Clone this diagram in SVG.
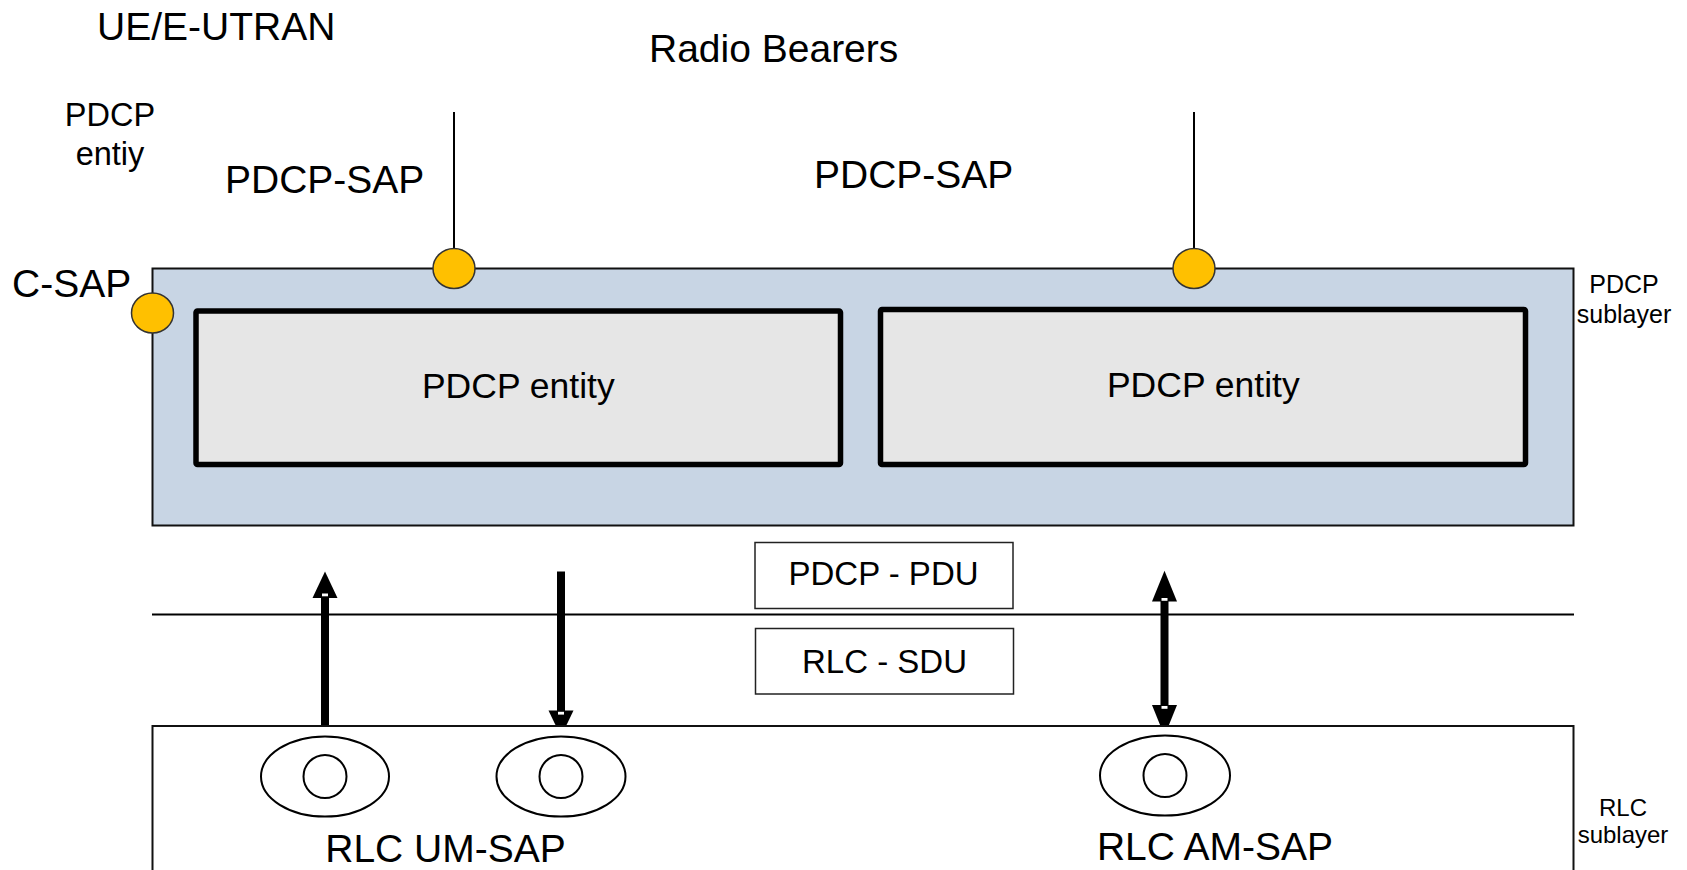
<svg xmlns="http://www.w3.org/2000/svg" width="1687" height="870" viewBox="0 0 1687 870">
<style>
  text { font-family: "Liberation Sans", Arial, sans-serif; fill: #000; }
  .big { font-size: 39px; }
  .ent { font-size: 35.5px; text-anchor: middle; }
  .mid { font-size: 33px; text-anchor: middle; }
  .side { font-size: 25px; text-anchor: middle; }
  .layer { fill: #c8d5e4; stroke: #111; stroke-width: 2; }
  .entity { fill: #e6e6e6; stroke: #000; stroke-width: 5.5; stroke-linejoin: round; }
  .sap { fill: #ffc000; stroke: #333; stroke-width: 1.5; }
  .box { fill: #fff; stroke: #222; stroke-width: 1.5; }
  .ell { fill: #fff; stroke: #000; stroke-width: 2; }
  .ln { stroke: #000; stroke-width: 2; fill: none; }
  .shaft { fill: #000; }
  .notch { fill: #fff; }
</style>

<g id="titles">
  <text class="big" x="97" y="40">UE/E-UTRAN</text>
  <text class="big" x="649" y="62">Radio Bearers</text>
  <text style="font-size:32.5px" x="110" y="126" text-anchor="middle">PDCP</text>
  <text style="font-size:32.5px" x="110" y="164.5" text-anchor="middle">entiy</text>
  <text class="big" x="225" y="193">PDCP-SAP</text>
  <text class="big" x="814" y="188">PDCP-SAP</text>
  <text class="big" x="12" y="297">C-SAP</text>
</g>

<g id="pdcp-sublayer">
  <rect class="layer" x="152.5" y="268.5" width="1421" height="257"/>
  <text class="side" x="1624" y="292.7">PDCP</text>
  <text class="side" x="1624" y="322.7">sublayer</text>
</g>

<g id="pdcp-entity-1">
  <rect class="entity" x="196" y="311" width="644.5" height="153.5" rx="1.5"/>
  <text class="ent" x="518.3" y="398.3">PDCP entity</text>
</g>

<g id="pdcp-entity-2">
  <rect class="entity" x="880.5" y="309.5" width="645" height="155" rx="1.5"/>
  <text class="ent" x="1203.3" y="396.7">PDCP entity</text>
</g>

<g id="connectors">
  <line class="ln" x1="454" y1="112" x2="454" y2="250"/>
  <line class="ln" x1="1194" y1="112" x2="1194" y2="250"/>
  <line class="ln" x1="152" y1="614.5" x2="1574" y2="614.5"/>
  <!-- up arrow -->
  <rect class="shaft" x="321" y="595" width="8" height="142"/>
  <polygon class="shaft" points="312.5,598 325,571.5 337.5,598"/>
  <rect class="notch" x="322" y="593.5" width="6" height="2.8"/>
  <!-- down arrow -->
  <rect class="shaft" x="557" y="571.5" width="8" height="142"/>
  <polygon class="shaft" points="548.5,710.5 561,736.5 573.5,710.5"/>
  <rect class="notch" x="558" y="711.8" width="6" height="2.8"/>
  <!-- bidirectional arrow -->
  <rect class="shaft" x="1160.5" y="598" width="8" height="110"/>
  <polygon class="shaft" points="1152,601.5 1164.5,570.7 1177,601.5"/>
  <polygon class="shaft" points="1152,705 1164.5,736 1177,705"/>
  <rect class="notch" x="1161.5" y="598" width="6" height="2.8"/>
  <rect class="notch" x="1161.5" y="706" width="6" height="2.8"/>
</g>

<g id="sap-points">
  <ellipse class="sap" cx="454" cy="268.5" rx="21" ry="20"/>
  <ellipse class="sap" cx="1194" cy="268.5" rx="21" ry="20"/>
  <ellipse class="sap" cx="152.5" cy="313" rx="21" ry="20"/>
</g>

<g id="pdcp-pdu">
  <rect class="box" x="755" y="542.5" width="258" height="66"/>
  <text class="mid" x="883.5" y="585">PDCP - PDU</text>
</g>

<g id="rlc-sdu">
  <rect class="box" x="755.5" y="628.5" width="258" height="65.5"/>
  <text class="mid" x="884.5" y="672.7">RLC - SDU</text>
</g>

<g id="rlc-sublayer">
  <rect fill="#fff" stroke="#111" stroke-width="2" x="152.5" y="726" width="1421" height="160"/>
  <text class="side" style="font-size:24px" x="1623" y="815.5">RLC</text>
  <text class="side" style="font-size:24px" x="1623" y="842.5">sublayer</text>
</g>

<g id="rlc-um-sap-1">
  <ellipse class="ell" cx="325" cy="776.5" rx="64" ry="40"/>
  <circle class="ell" cx="325" cy="776.5" r="21.5"/>
</g>
<g id="rlc-um-sap-2">
  <ellipse class="ell" cx="561" cy="776.5" rx="64.5" ry="40"/>
  <circle class="ell" cx="561" cy="776.5" r="21.5"/>
</g>
<g id="rlc-am-sap">
  <ellipse class="ell" cx="1165" cy="775.5" rx="65" ry="40"/>
  <circle class="ell" cx="1165" cy="775.5" r="21.5"/>
</g>

<g id="rlc-labels">
  <text class="big" x="445.5" y="862" text-anchor="middle">RLC UM-SAP</text>
  <text class="big" x="1215" y="860" text-anchor="middle">RLC AM-SAP</text>
</g>
</svg>
